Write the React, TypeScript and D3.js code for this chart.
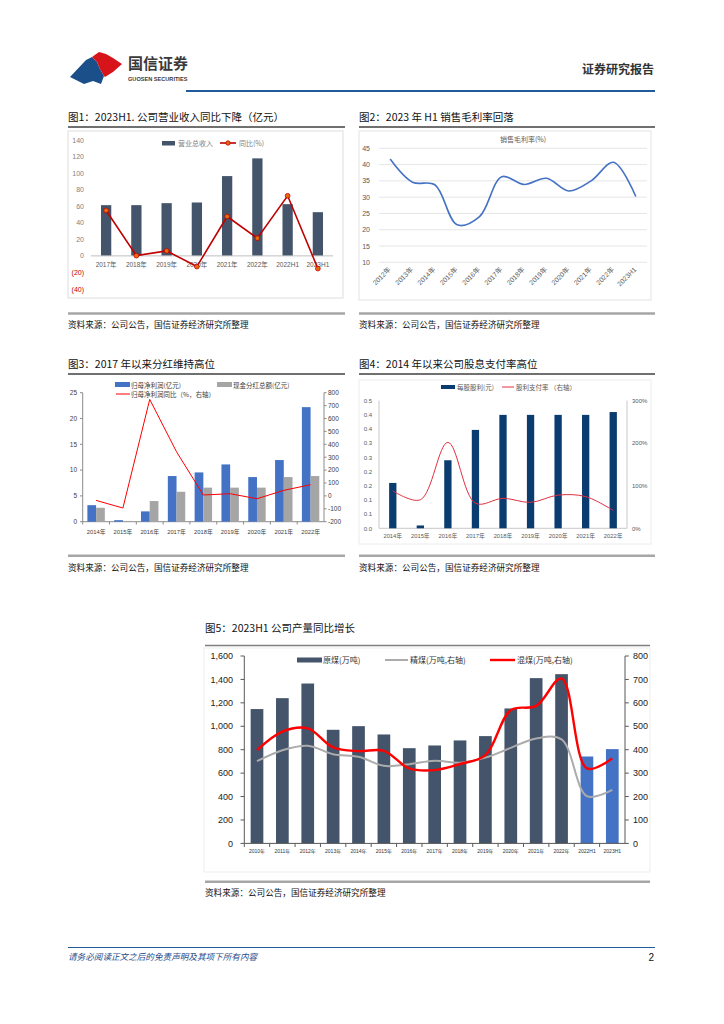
import React from 'react';
import * as d3 from 'd3';

const FONT = '"Liberation Sans", Arial, "Noto Sans CJK SC", sans-serif';
const CJK = '"Noto Sans CJK SC", "Liberation Sans", sans-serif';

// ---------- Chart 1 ----------
const c1Cats = ['2017年', '2018年', '2019年', '2020年', '2021年', '2022年', '2022H1', '2023H1'];
const c1Revenue = [61.3, 61.3, 63.7, 64.5, 96.4, 117.8, 62.5, 52.8];
const c1Yoy = [54.9, 0.3, 6.0, -12.9, 47.6, 21.4, 72.6, -15.3];
const c1Ticks = [-40, -20, 0, 20, 40, 60, 80, 100, 120, 140];
const c1TickLabels = ['(40)', '(20)', '0', '20', '40', '60', '80', '100', '120', '140'];

// ---------- Chart 2 ----------
const c2Cats = ['2012年', '2013年', '2014年', '2015年', '2016年', '2017年', '2018年', '2019年', '2020年', '2021年', '2022年', '2023H1'];
const c2Margin = [41.7, 34.6, 33.8, 21.5, 24.0, 36.3, 33.9, 35.8, 31.9, 35.0, 40.7, 30.2];
const c2Ticks = [10, 15, 20, 25, 30, 35, 40, 45];

// ---------- Chart 3 ----------
const c3Cats = ['2014年', '2015年', '2016年', '2017年', '2018年', '2019年', '2020年', '2021年', '2022年'];
const c3Profit = [3.2, 0.3, 2.0, 8.85, 9.55, 11.1, 8.65, 11.95, 22.2];
const c3Dividend = [2.7, 0.15, 4.0, 5.8, 6.6, 6.6, 6.6, 8.65, 8.85];
const c3Growth = [-35, -94, 748, 342, 7, 17, -22, 43, 87];
const c3LeftTicks = [0, 5, 10, 15, 20, 25];
const c3RightTicks = [-200, -100, 0, 100, 200, 300, 400, 500, 600, 700, 800];

// ---------- Chart 4 ----------
const c4Cats = ['2014年', '2015年', '2016年', '2017年', '2018年', '2019年', '2020年', '2021年', '2022年'];
const c4Dps = [0.16, 0.01, 0.24, 0.347, 0.40, 0.40, 0.40, 0.40, 0.41];
const c4Payout = [88, 67, 202, 59, 70.5, 61, 78, 74.5, 42];
const c4LeftTicks = [0, 0.05, 0.1, 0.15, 0.2, 0.25, 0.3, 0.35, 0.4, 0.45];
const c4LeftLabels = ['0.0', '0.1', '0.1', '0.2', '0.2', '0.3', '0.3', '0.4', '0.4', '0.5'];
const c4RightTicks = [0, 100, 200, 300];
const c4RightLabels = ['0%', '100%', '200%', '300%'];

// ---------- Chart 5 ----------
const c5Cats = ['2010年', '2011年', '2012年', '2013年', '2014年', '2015年', '2016年', '2017年', '2018年', '2019年', '2020年', '2021年', '2022年', '2022H1', '2023H1'];
const c5Raw = [1147, 1240, 1365, 970, 1001, 930, 813, 836, 879, 916, 1152, 1411, 1445, 742, 805];
const c5Clean = [351, 398, 417, 381, 370, 331, 338, 353, 344, 366, 408, 448, 444, 202, 228];
const c5Mixed = [398, 477, 491, 410, 394, 395, 320, 313, 339, 377, 569, 587, 704, 320, 363];
const c5LeftTicks = [0, 200, 400, 600, 800, 1000, 1200, 1400, 1600];
const c5RightTicks = [0, 100, 200, 300, 400, 500, 600, 700, 800];

const SOURCE = '资料来源：公司公告，国信证券经济研究所整理';

function Title({ x0, x1, y, text, lineY, lineColor = '#404040' }: any) {
  return (
    <g>
      <text x={x0} y={y} fontSize={10.5} fontFamily={CJK} fill="#111">{text}</text>
      <line x1={x0} x2={x1} y1={lineY} y2={lineY} stroke={lineColor} strokeWidth={1.5} />
    </g>
  );
}

function Source({ x0, x1, lineY, y }: any) {
  return (
    <g>
      <line x1={x0} x2={x1} y1={lineY} y2={lineY} stroke="#A6A6A6" strokeWidth={2.5} />
      <text x={x0} y={y} fontSize={8.6} fontFamily={CJK} fill="#111">{SOURCE}</text>
    </g>
  );
}

function Header() {
  return (
    <g>
      <path d="M70,77 L86,60 L92,57 L97,62 L100,69 L104,76 L101,84 L93,81 L84,84 Z" fill="#1B4F8A" />
      <path d="M92,57 L99,52 L106,54 L113,58 L122,64 L113,72 L105,77 L104,76 L100,69 L97,62 Z" fill="#D7141A" />
      <text x={128} y={69} fontSize={15} fontFamily={CJK} fontWeight={700} fill="#3A3A3A">国信证券</text>
      <text x={128} y={81} fontSize={5.6} fontFamily={FONT} fontWeight={700} fill="#3A3A3A">GUOSEN SECURITIES</text>
      <text x={654} y={74} fontSize={12} fontFamily={CJK} fontWeight={700} fill="#333" textAnchor="end">证券研究报告</text>
      <line x1={186} x2={655} y1={91} y2={91} stroke="#1F5C99" strokeWidth={2.2} />
    </g>
  );
}

function Chart1() {
  const x = d3.scalePoint<string>().domain(c1Cats).range([91, 333]).padding(0.5);
  const bw = x.step() * 0.34;
  const y = d3.scaleLinear().domain([-40, 140]).range([289, 140]);
  const line = d3.line<number>().x((_, i) => x(c1Cats[i])!).y((d) => y(d));
  return (
    <g>
      <Title x0={68} x1={345} y={121} lineY={127} text="图1：2023H1. 公司营业收入同比下降（亿元）" />
      <rect x={68} y={131} width={275} height={167} fill="none" stroke="#DDDDDD" />
      {c1Ticks.map((t, i) => (
        <text key={t} x={84} y={y(t) + 2.5} textAnchor="end" fontSize={7} fill={t < 0 ? '#C00000' : '#7F7F7F'}>{c1TickLabels[i]}</text>
      ))}
      {c1Revenue.map((v, i) => (
        <rect key={i} x={x(c1Cats[i])! - bw / 2} y={y(v)} width={bw} height={y(0) - y(v)} fill="#44546A" />
      ))}
      <line x1={91} x2={333} y1={y(0)} y2={y(0)} stroke="#BFBFBF" />
      {c1Cats.map((c) => (
        <text key={c} x={x(c)!} y={267} textAnchor="middle" fontSize={6.5} fill="#595959">{c}</text>
      ))}
      <path d={line(c1Yoy)!} fill="none" stroke="#C00000" strokeWidth={1.6} />
      {c1Yoy.map((v, i) => (
        <circle key={i} cx={x(c1Cats[i])!} cy={y(v)} r={2.4} fill="#E46C0A" stroke="#C00000" strokeWidth={0.8} />
      ))}
      {/* legend */}
      <rect x={162} y={141} width={13} height={4.5} fill="#44546A" />
      <text x={178} y={145.5} fontSize={7} fontFamily={CJK} fill="#7F7F7F">营业总收入</text>
      <line x1={220} x2={236} y1={143} y2={143} stroke="#C00000" strokeWidth={1.6} />
      <circle cx={228} cy={143} r={2.2} fill="#E46C0A" stroke="#C00000" strokeWidth={0.8} />
      <text x={239} y={145.5} fontSize={7} fontFamily={CJK} fill="#7F7F7F">同比(%)</text>
      <Source x0={68} x1={345} lineY={313.5} y={328} />
    </g>
  );
}

function Chart2() {
  const x = d3.scalePoint<string>().domain(c2Cats).range([379, 647]).padding(0.5);
  const y = d3.scaleLinear().domain([10, 45]).range([262.3, 148.3]);
  const line = d3.line<number>().x((_, i) => x(c2Cats[i])!).y((d) => y(d)).curve(d3.curveCatmullRom.alpha(0.5));
  return (
    <g>
      <Title x0={359} x1={655} y={121} lineY={127} text="图2：2023 年 H1 销售毛利率回落" />
      <rect x={359} y={131} width={292} height={169} fill="none" stroke="#E3E3E3" />
      <text x={523} y={141.5} textAnchor="middle" fontSize={7} fontFamily={CJK} fill="#595959">销售毛利率(%)</text>
      {c2Ticks.map((t) => (
        <g key={t}>
          <line x1={379} x2={647} y1={y(t)} y2={y(t)} stroke="#E0E0E0" strokeWidth={0.8} />
          <text x={370} y={y(t) + 2.5} textAnchor="end" fontSize={7} fill="#595959">{t}</text>
        </g>
      ))}
      <path d={line(c2Margin)!} fill="none" stroke="#4472C4" strokeWidth={1.6} />
      {c2Cats.map((c) => (
        <text key={c} transform={`translate(${x(c)! + 1},${270}) rotate(-45)`} textAnchor="end" fontSize={6.8} fill="#595959">{c}</text>
      ))}
      <Source x0={359} x1={655} lineY={313.5} y={328} />
    </g>
  );
}

function Chart3() {
  const x = d3.scaleBand<string>().domain(c3Cats).range([82.7, 324]).paddingInner(0.35).paddingOuter(0.175);
  const sub = d3.scaleBand<string>().domain(['p', 'd']).range([0, x.bandwidth()]);
  const yL = d3.scaleLinear().domain([0, 25]).range([521.7, 392.7]);
  const yR = d3.scaleLinear().domain([-200, 800]).range([521.7, 392.7]);
  const line = d3.line<number>().x((_, i) => x(c3Cats[i])! + x.bandwidth() / 2).y((d) => yR(d));
  return (
    <g>
      <Title x0={68} x1={345} y={368} lineY={374} text="图3：2017 年以来分红维持高位" />
      {/* legend */}
      <rect x={115} y={382} width={15} height={5} fill="#4472C4" />
      <text x={131} y={387.5} fontSize={6.5} fontFamily={CJK} fill="#404040">归母净利润(亿元)</text>
      <rect x={217} y={382} width={15} height={5} fill="#A5A5A5" />
      <text x={233} y={387.5} fontSize={6.5} fontFamily={CJK} fill="#404040">现金分红总额(亿元)</text>
      <line x1={116} x2={130} y1={394} y2={394} stroke="#FF0000" strokeWidth={1} />
      <text x={131} y={396.5} fontSize={6.5} fontFamily={CJK} fill="#404040">归母净利润同比（%，右轴）</text>
      {/* axes */}
      <line x1={82.7} x2={82.7} y1={392.7} y2={521.7} stroke="#8C8C8C" />
      <line x1={324} x2={324} y1={392.7} y2={521.7} stroke="#8C8C8C" />
      <line x1={82.7} x2={324} y1={521.7} y2={521.7} stroke="#8C8C8C" />
      {c3LeftTicks.map((t) => (
        <g key={t}>
          <line x1={80} x2={82.7} y1={yL(t)} y2={yL(t)} stroke="#8C8C8C" />
          <text x={77} y={yL(t) + 2.3} textAnchor="end" fontSize={6.5} fill="#404040">{t}</text>
        </g>
      ))}
      {c3RightTicks.map((t) => (
        <g key={t}>
          <line x1={324} x2={326.5} y1={yR(t)} y2={yR(t)} stroke="#8C8C8C" />
          <text x={328} y={yR(t) + 2.3} fontSize={6.5} fill="#404040">{t}</text>
        </g>
      ))}
      {c3Cats.map((c, i) => (
        <g key={c}>
          <rect x={x(c)! + sub('p')!} y={yL(c3Profit[i])} width={sub.bandwidth()} height={yL(0) - yL(c3Profit[i])} fill="#4472C4" />
          <rect x={x(c)! + sub('d')!} y={yL(c3Dividend[i])} width={sub.bandwidth()} height={yL(0) - yL(c3Dividend[i])} fill="#A5A5A5" />
          <line x1={x(c)! - x.step() * 0.175} x2={x(c)! - x.step() * 0.175} y1={521.7} y2={524.5} stroke="#8C8C8C" />
          <text x={x(c)! + x.bandwidth() / 2} y={534} textAnchor="middle" fontSize={5.8} fill="#404040">{c}</text>
        </g>
      ))}
      <path d={line(c3Growth)!} fill="none" stroke="#FF0000" strokeWidth={1} />
      <Source x0={68} x1={345} lineY={555.7} y={570.5} />
    </g>
  );
}

function Chart4() {
  const x = d3.scaleBand<string>().domain(c4Cats).range([379, 627]).paddingInner(0.735).paddingOuter(0.3675);
  const yL = d3.scaleLinear().domain([0, 0.45]).range([528.3, 400.7]);
  const yR = d3.scaleLinear().domain([0, 300]).range([528.3, 400.7]);
  const line = d3.line<number>().x((_, i) => x(c4Cats[i])! + x.bandwidth() / 2).y((d) => yR(d)).curve(d3.curveCatmullRom.alpha(0.5));
  return (
    <g>
      <Title x0={359} x1={655} y={368} lineY={374} text="图4：2014 年以来公司股息支付率高位" />
      <rect x={359} y={380} width={292} height={164} fill="none" stroke="#ECECEC" />
      {/* legend */}
      <rect x={441} y={385} width={14} height={4} fill="#0B3C70" />
      <text x={457} y={389.5} fontSize={6.5} fontFamily={CJK} fill="#595959">每股股利(元)</text>
      <line x1={502} x2={514} y1={387} y2={387} stroke="#E03040" strokeWidth={1} />
      <text x={516} y={389.5} fontSize={6.5} fontFamily={CJK} fill="#595959">股利支付率 （右轴）</text>
      <line x1={379} x2={379} y1={400.7} y2={528.3} stroke="#C8C8C8" />
      <line x1={627} x2={627} y1={400.7} y2={528.3} stroke="#C8C8C8" />
      <line x1={379} x2={627} y1={528.3} y2={528.3} stroke="#C8C8C8" />
      {c4LeftTicks.map((t, i) => (
        <text key={i} x={372} y={yL(t) + 2.2} textAnchor="end" fontSize={6} fill="#595959">{c4LeftLabels[i]}</text>
      ))}
      {c4RightTicks.map((t, i) => (
        <text key={t} x={632} y={yR(t) + 2.2} fontSize={6} fill="#595959">{c4RightLabels[i]}</text>
      ))}
      {c4Cats.map((c, i) => (
        <g key={c}>
          <rect x={x(c)!} y={yL(c4Dps[i])} width={x.bandwidth()} height={yL(0) - yL(c4Dps[i])} fill="#0B3C70" />
          <text x={x(c)! + x.bandwidth() / 2} y={538} textAnchor="middle" fontSize={5.8} fill="#595959">{c}</text>
        </g>
      ))}
      <path d={line(c4Payout)!} fill="none" stroke="#E03040" strokeWidth={1} />
      <Source x0={359} x1={655} lineY={555.7} y={570.5} />
    </g>
  );
}

function Chart5() {
  const x = d3.scaleBand<string>().domain(c5Cats).range([244.3, 625]).paddingInner(0.5).paddingOuter(0.25);
  const yL = d3.scaleLinear().domain([0, 1600]).range([843.4, 656]);
  const yR = d3.scaleLinear().domain([0, 800]).range([843.4, 656]);
  const cx = (i: number) => x(c5Cats[i])! + x.bandwidth() / 2;
  const lineGen = d3.line<number>().x((_, i) => cx(i)).y((d) => yR(d)).curve(d3.curveCatmullRom.alpha(0.5));
  const fmt = d3.format(',');
  return (
    <g>
      <Title x0={205} x1={650} y={631.5} lineY={645.5} lineColor="#7F7F7F" text="图5：2023H1 公司产量同比增长" />
      <rect x={204} y={648} width={446} height={224} fill="none" stroke="#EDEDED" />
      <line x1={244.3} x2={244.3} y1={656} y2={843.4} stroke="#595959" />
      <line x1={625} x2={625} y1={656} y2={843.4} stroke="#595959" />
      {c5LeftTicks.map((t) => (
        <g key={t}>
          <line x1={240.5} x2={244.3} y1={yL(t)} y2={yL(t)} stroke="#595959" />
          <text x={233} y={yL(t) + 3.2} textAnchor="end" fontSize={9} fill="#222">{fmt(t)}</text>
        </g>
      ))}
      {c5RightTicks.map((t) => (
        <g key={t}>
          <line x1={625} x2={628.8} y1={yR(t)} y2={yR(t)} stroke="#595959" />
          <text x={633} y={yR(t) + 3.2} fontSize={9} fill="#222">{t}</text>
        </g>
      ))}
      {c5Cats.map((c, i) => (
        <g key={c}>
          <rect x={x(c)!} y={yL(c5Raw[i])} width={x.bandwidth()} height={yL(0) - yL(c5Raw[i])} fill={c.endsWith('H1') ? '#4472C4' : '#44546A'} />
          <line x1={x(c)! - x.step() * 0.25} x2={x(c)! - x.step() * 0.25} y1={843.4} y2={847} stroke="#595959" />
          <text x={cx(i)} y={853} textAnchor="middle" fontSize={5} fill="#333">{c}</text>
        </g>
      ))}
      <line x1={244.3} x2={625} y1={843.4} y2={843.4} stroke="#595959" />
      <path d={lineGen(c5Clean)!} fill="none" stroke="#ABABAB" strokeWidth={2} />
      <path d={lineGen(c5Mixed)!} fill="none" stroke="#FF0000" strokeWidth={2.4} />
      {/* legend */}
      <rect x={297} y={657.5} width={25} height={5} fill="#44546A" />
      <text x={323} y={663} fontSize={8} fontFamily={CJK} fill="#333">原煤(万吨)</text>
      <line x1={385} x2={408} y1={660} y2={660} stroke="#ABABAB" strokeWidth={2} />
      <text x={410} y={663} fontSize={8} fontFamily={CJK} fill="#333">精煤(万吨,右轴)</text>
      <line x1={490} x2={515} y1={660} y2={660} stroke="#FF0000" strokeWidth={2.4} />
      <text x={517} y={663} fontSize={8} fontFamily={CJK} fill="#333">混煤(万吨,右轴)</text>
      <Source x0={205} x1={650} lineY={881.7} y={895.5} />
    </g>
  );
}

function Footer() {
  return (
    <g>
      <line x1={68} x2={655} y1={947.5} y2={947.5} stroke="#1F5C99" strokeWidth={1.2} />
      <text x={68} y={960} fontSize={8.6} fontFamily={CJK} fontStyle="italic" fill="#1F4E8C">请务必阅读正文之后的免责声明及其项下所有内容</text>
      <text x={654} y={961} fontSize={10} fontFamily={FONT} textAnchor="end" fill="#111">2</text>
    </g>
  );
}

export default function App() {
  return (
    <svg width={724} height={1024} viewBox="0 0 724 1024" fontFamily={FONT} style={{ position: 'absolute', left: 0, top: 0, display: 'block' }}>
      <rect width={724} height={1024} fill="#fff" />
      <Header />
      <Chart1 />
      <Chart2 />
      <Chart3 />
      <Chart4 />
      <Chart5 />
      <Footer />
    </svg>
  );
}
